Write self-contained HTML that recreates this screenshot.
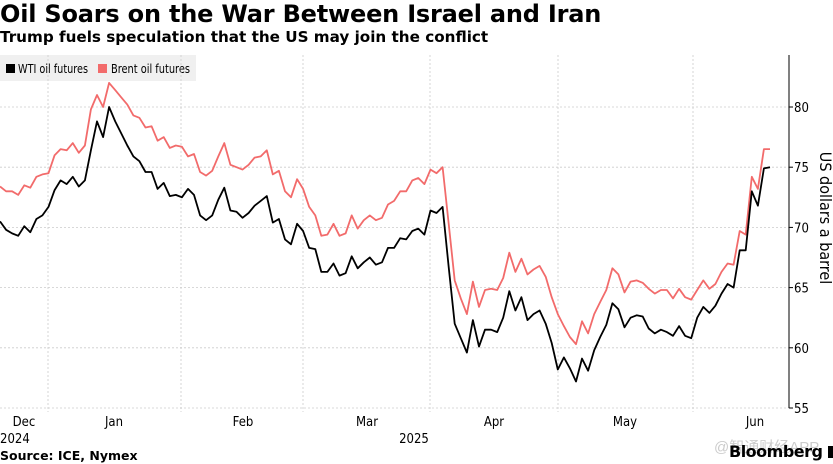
<!DOCTYPE html>
<html><head><meta charset="utf-8"><style>
body{margin:0;width:833px;height:464px;background:#fff;overflow:hidden;position:relative;font-family:"DejaVu Sans","Liberation Sans",sans-serif}
.t{position:absolute;white-space:nowrap}
</style></head><body>
<div class="t" style="left:0;top:0px;font-size:24px;font-weight:bold;letter-spacing:-0.2px">Oil Soars on the War Between Israel and Iran</div>
<div class="t" style="left:0;top:28px;font-size:15.2px;font-weight:bold">Trump fuels speculation that the US may join the conflict</div>
<svg id="c" width="833" height="464" style="position:absolute;left:0;top:0"></svg>
<div class="t" style="left:0;top:448px;font-size:12.5px;font-weight:bold">Source: ICE, Nymex</div>
<div class="t" style="left:714px;top:436px;font-size:15px;color:#ccc;font-family:'Liberation Sans','Noto Sans CJK SC',sans-serif">@智通财经APP</div>
<div class="t" style="left:729px;top:442px;font-size:16px;font-weight:bold;letter-spacing:-0.5px">Bloomberg <span style="display:inline-block;width:11px;height:12px;background:#000;vertical-align:-1px"></span></div>
<script>
const wti=[70.5,69.8,69.5,69.3,70.1,69.6,70.7,71.0,71.7,73.1,73.9,73.6,74.2,73.4,73.9,76.4,78.8,77.5,80.0,78.8,77.8,76.8,75.9,75.5,74.6,74.6,73.2,73.7,72.6,72.7,72.5,73.2,72.7,71.0,70.6,71.0,72.3,73.3,71.4,71.3,70.8,71.2,71.8,72.2,72.6,70.4,70.7,69.0,68.6,70.3,69.7,68.3,68.2,66.3,66.3,67.0,66.0,66.2,67.6,66.6,67.1,67.5,66.9,67.1,68.3,68.3,69.1,69.0,69.7,69.9,
69.4,71.4,71.2,71.7,66.7,62.0,60.8,59.6,62.3,60.1,61.5,61.5,61.3,62.5,64.7,63.1,64.2,62.3,62.8,63.1,62.0,60.4,58.2,59.2,58.3,57.2,59.1,58.1,59.8,60.9,61.9,63.7,63.2,61.7,62.5,62.7,62.6,61.6,61.2,61.5,61.3,61.0,61.8,61.0,60.8,62.5,63.4,62.9,63.5,64.5,65.3,65.0,68.1,68.1,73.0,71.8,74.9,75.0];
const brent=[73.4,73.0,73.0,72.7,73.5,73.3,74.2,74.4,74.5,76.0,76.5,76.4,77.0,76.2,76.8,79.8,81.0,80.0,82.0,81.4,80.8,80.2,79.3,79.1,78.3,78.4,77.2,77.5,76.6,76.8,76.7,75.9,76.1,74.6,74.3,74.7,75.9,77.0,75.2,75.0,74.8,75.2,75.8,75.9,76.4,74.4,74.7,73.0,72.5,74.0,73.2,71.7,71.0,69.3,69.4,70.3,69.3,69.5,71.0,69.9,70.6,71.0,70.6,70.8,71.9,72.2,73.0,73.0,73.9,74.1,
73.6,74.8,74.5,75.0,70.3,65.6,64.1,62.8,65.5,63.4,64.8,64.9,64.8,65.8,67.9,66.3,67.4,66.1,66.5,66.8,65.9,64.2,62.8,61.8,60.9,60.3,62.2,61.2,62.8,63.8,64.8,66.6,66.1,64.6,65.5,65.6,65.4,64.9,64.5,64.8,64.8,64.1,64.9,64.2,64.0,64.8,65.6,64.9,65.3,66.3,67.0,66.9,69.7,69.4,74.2,73.2,76.5,76.5];
const yTicks=[55,60,65,70,75,80];
const monthLabels=["Dec","Jan","Feb","Mar","Apr","May","Jun"];
const yearLabels=["2024","2025"];
const NS="http://www.w3.org/2000/svg",svg=document.getElementById('c');
const X0=0,X1=770,AX=789,YT=55,YB=408;
const x=i=>X0+i*(X1-X0)/(wti.length-1);
const y=v=>107+(80-v)*12.04;
function el(t,a,p){const e=document.createElementNS(NS,t);for(const k in a)e.setAttribute(k,a[k]);(p||svg).appendChild(e);return e;}
const FF='DejaVu Sans Condensed,DejaVu Sans,sans-serif';
// legend
const lg=el('g',{});


el('rect',{x:0,y:55,width:196,height:26,fill:'#f0f0f0'},lg);
el('rect',{x:6,y:64,width:9,height:9,fill:'#000'},lg);
const l1=el('text',{x:18,y:73,'font-size':12.5,'font-family':FF,textLength:70,lengthAdjust:'spacingAndGlyphs'},lg);l1.textContent='WTI oil futures';


el('rect',{x:98,y:64,width:9,height:9,fill:'#f26b6b'},lg);
const l2=el('text',{x:111,y:73,'font-size':12.5,'font-family':FF,textLength:79,lengthAdjust:'spacingAndGlyphs'},lg);l2.textContent='Brent oil futures';


// grid
yTicks.forEach(v=>{
 const g=el('line',{x1:0,x2:AX,y1:y(v),y2:y(v),stroke:'#ccc','stroke-dasharray':'2,2','stroke-width':0.8});
 
 
 el('line',{x1:AX,x2:AX+4,y1:y(v),y2:y(v),stroke:'#000'});
 const t=el('text',{x:AX+5,y:y(v)+5,'font-size':13,'font-family':FF});t.textContent=v;
 
 
});
[48,181,303,430,558,693].forEach(gx=>{
 const g=el('line',{x1:gx,x2:gx,y1:YT,y2:YB+4,stroke:'#ccc','stroke-dasharray':'2,2','stroke-width':0.8});
 
 
});
const ax=el('line',{x1:AX,x2:AX,y1:YT,y2:YB,stroke:'#000','stroke-width':1});


const lx=[24,114,243,367,494,625,755];
monthLabels.forEach((m,i)=>{const t=el('text',{x:lx[i],y:426,'font-size':13,'text-anchor':'middle','font-family':FF});t.textContent=m;
 
 });
[[0,'start'],[414,'middle']].forEach((p,i)=>{const t=el('text',{x:p[0],y:443,'font-size':13,'text-anchor':p[1],'font-family':FF});t.textContent=yearLabels[i];
 
 });
const yt=el('text',{transform:'translate(820,218) rotate(90)','font-size':16,'text-anchor':'middle','font-family':FF});yt.textContent='US dollars a barrel';


function line(d,c,n){const p=el('polyline',{points:d.map((v,i)=>x(i).toFixed(1)+','+y(v).toFixed(1)).join(' '),fill:'none',stroke:c,'stroke-width':1.8,'stroke-linejoin':'round'});
 
 }
line(brent,'#f26b6b','brent-line');
line(wti,'#000','wti-line');
</script>
</body></html>
